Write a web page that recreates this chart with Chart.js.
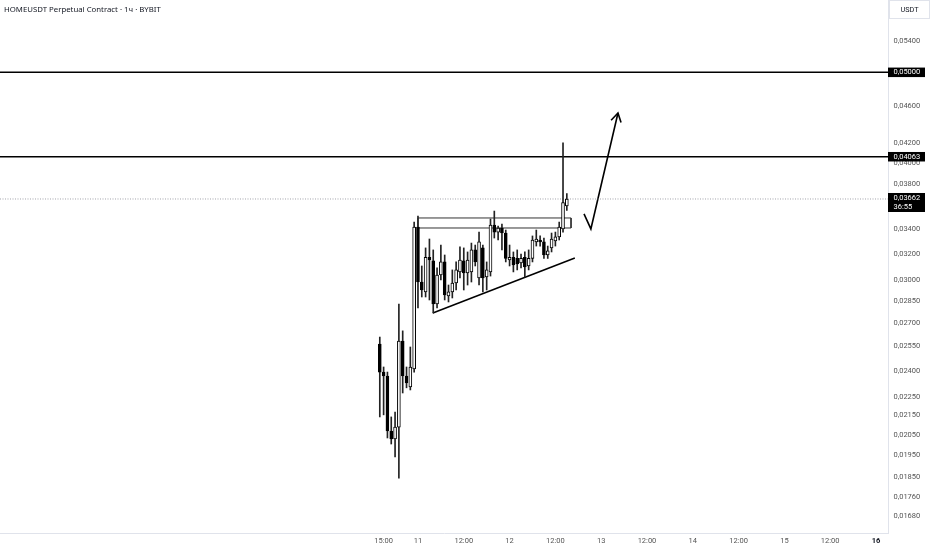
<!DOCTYPE html>
<html>
<head>
<meta charset="utf-8">
<script src="https://cdn.jsdelivr.net/npm/chart.js@4.4.0/dist/chart.umd.min.js"></script>
<style>
html,body{margin:0;padding:0;background:#ffffff;}
#wrap{width:932px;height:550px;position:relative;}
canvas{display:block;}
</style>
</head>
<body>
<div id="wrap"><canvas id="c" width="932" height="550"></canvas></div>
<script>
// ---- data (hour index since 10th 14:00, 1h candles) ----
const hours = [0,1,2,3,4,5,6,7,8,9,10,11,12,13,14,15,16,17,18,19,20,21,22,23,24,25,26,27,28,29,30,31,32,33,34,35,36,37,38,39,40,41,42,43,44,45,46,47,48,49];
const opens = [0.02564,0.02393,0.02370,0.02070,0.02030,0.02090,0.02583,0.02370,0.02307,0.02411,
               0.03418,0.02986,0.02914,0.03172,0.03145,0.02829,0.03038,0.03137,0.02885,0.02914,
               0.02979,0.03061,0.03145,0.03053,0.03061,0.03231,0.03016,0.03247,0.03023,0.03061,
               0.03435,0.03376,0.03410,0.03368,0.03152,0.03172,0.03164,0.03129,0.03172,0.03106,
               0.03164,0.03295,0.03311,0.03295,0.03191,0.03247,0.03303,0.03336,0.03402,0.03600];
const highs = [0.02608,0.02423,0.02393,0.02143,0.02169,0.02829,0.02648,0.02423,0.02545,0.03461,
               0.03512,0.03106,0.03247,0.03319,0.03231,0.03091,0.03270,0.03191,0.02964,0.03076,
               0.03137,0.03255,0.03247,0.03215,0.03286,0.03270,0.03376,0.03270,0.03137,0.03486,
               0.03555,0.03427,0.03444,0.03393,0.03270,0.03215,0.03231,0.03199,0.03215,0.03231,
               0.03344,0.03393,0.03344,0.03327,0.03262,0.03368,0.03376,0.03460,0.04203,0.03712];
const lows  = [0.02143,0.02154,0.02035,0.02005,0.01942,0.01844,0.02273,0.02302,0.02290,0.02393,
               0.02801,0.02878,0.02878,0.02857,0.02767,0.02801,0.03001,0.02857,0.02843,0.02871,
               0.02928,0.03016,0.02928,0.02964,0.02986,0.03106,0.02964,0.02914,0.02928,0.03030,
               0.03327,0.03311,0.03231,0.03137,0.03106,0.03061,0.03076,0.03091,0.03023,0.03076,
               0.03137,0.03262,0.03262,0.03164,0.03164,0.03215,0.03262,0.03311,0.03376,0.03560];
const closes = [0.02393,0.02370,0.02070,0.02030,0.02090,0.02583,0.02370,0.02330,0.02423,0.03418,
               0.02986,0.02928,0.03172,0.03152,0.02829,0.03038,0.03137,0.02892,0.02914,0.02979,
               0.03076,0.03152,0.03053,0.03152,0.03231,0.03137,0.03295,0.03016,0.03076,0.03435,
               0.03376,0.03410,0.03368,0.03164,0.03172,0.03114,0.03121,0.03164,0.03099,0.03164,
               0.03311,0.03319,0.03295,0.03191,0.03223,0.03319,0.03336,0.03418,0.03630,0.03662];

const priceTicks = [0.0168,0.0176,0.0185,0.0195,0.0205,0.0215,0.0225,0.024,0.0255,0.027,0.0285,
                    0.030,0.032,0.034,0.036,0.038,0.040,0.042,0.046,0.050,0.054];
const timeTicks  = [1,10,22,34,46,58,70,82,94,106,118,130];
const timeLabels = ['15:00','11','12:00','12','12:00','13','12:00','14','12:00','15','12:00','16'];

const levels = [0.05000, 0.04063];
const lastPrice = 0.03662;
const countdown = '36:55';

// drawings (x in hours, y in price)
const triangleX = [13.9, 51.1];
const triangleY = [0.02767, 0.03168];
const boxX = [10.0, 50.1];
const boxY = [0.03410, 0.03495];
const arrowX = [53.5, 55.3, 62.4];
const arrowY = [0.03530, 0.03402, 0.04524];
const arrowHeadX = [60.6, 62.4, 63.2];
const arrowHeadY = [0.04444, 0.04524, 0.04419];

const titleText = 'HOMEUSDT Perpetual Contract · 1ч · BYBIT';
const currency = 'USDT';

// ---- view ----
const X_MIN = -99.5, X_MAX = 133.14;
const Y_MIN = 0.01611, Y_MAX = 0.05973;

const fmt = v => v.toFixed(5).replace('.', ',');
const bodyFill = hours.map((h, i) => closes[i] >= opens[i] ? '#ffffff' : '#000000');

const lineDs = (pts, color, width, dash) => ({
  type: 'line', data: pts, borderColor: color, borderWidth: width,
  borderDash: dash || [], pointRadius: 0, pointHoverRadius: 0, fill: false,
  tension: 0, order: 5
});

const overlay = {
  id: 'overlay',
  afterDraw(chart) {
    const {ctx, chartArea, scales: {y}} = chart;
    ctx.save();
    // title
    ctx.font = '7.8px "Noto Sans", sans-serif';
    ctx.fillStyle = '#131722';
    ctx.textBaseline = 'middle';
    ctx.textAlign = 'left';
    ctx.fillText(titleText, 4, 10);
    // currency box
    ctx.strokeStyle = '#e0e3eb';
    ctx.lineWidth = 1;
    ctx.strokeRect(chartArea.right + 1.5, 0.5, 40, 18);
    ctx.fillStyle = '#131722';
    ctx.font = '7.3px "Roboto", sans-serif';
    ctx.textAlign = 'center';
    ctx.fillText(currency, chartArea.right + 21.5, 10);
    // level labels
    ctx.textAlign = 'left';
    ctx.font = '7.5px "Roboto", sans-serif';
    levels.forEach(v => {
      const py = y.getPixelForValue(v);
      ctx.fillStyle = '#000000';
      ctx.fillRect(chartArea.right, py - 4.75, 37, 9.5);
      ctx.fillStyle = '#ffffff';
      ctx.fillText(fmt(v), chartArea.right + 5.5, py + 0.3);
    });
    const py = y.getPixelForValue(lastPrice);
    ctx.fillStyle = '#000000';
    ctx.fillRect(chartArea.right, py - 6, 37, 19);
    ctx.fillStyle = '#ffffff';
    ctx.fillText(fmt(lastPrice), chartArea.right + 5.5, py - 0.5);
    ctx.fillText(countdown, chartArea.right + 5.5, py + 8);
    ctx.restore();
  }
};

new Chart(document.getElementById('c'), {
  data: {
    datasets: [
      {
        type: 'bar', label: 'body',
        data: hours.map((h, i) => ({x: h, y: [opens[i], closes[i]]})),
        backgroundColor: bodyFill, borderColor: '#000000', borderWidth: 1,
        borderSkipped: false, barThickness: 3, grouped: false, order: 0
      },
      {
        type: 'bar', label: 'wick',
        data: hours.map((h, i) => ({x: h, y: [lows[i], highs[i]]})),
        backgroundColor: '#222222', borderWidth: 0,
        barThickness: 1, grouped: false, order: 1
      },
      lineDs([{x: X_MIN, y: levels[0]}, {x: X_MAX, y: levels[0]}], '#000000', 1.5),
      lineDs([{x: X_MIN, y: levels[1]}, {x: X_MAX, y: levels[1]}], '#000000', 1.5),
      lineDs([{x: X_MIN, y: lastPrice}, {x: X_MAX, y: lastPrice}], '#8a8d96', 0.8, [1, 1.5]),
      lineDs([{x: triangleX[0], y: triangleY[0]}, {x: triangleX[1], y: triangleY[1]}], '#000000', 1.5),
      lineDs([{x: boxX[0], y: boxY[1]}, {x: boxX[1], y: boxY[1]}, {x: boxX[1], y: boxY[0]},
              {x: boxX[0], y: boxY[0]}, {x: boxX[0], y: boxY[1]}], '#333333', 1),
      lineDs(arrowX.map((v, i) => ({x: v, y: arrowY[i]})), '#000000', 1.6),
      lineDs(arrowHeadX.map((v, i) => ({x: v, y: arrowHeadY[i]})), '#000000', 1.6)
    ]
  },
  options: {
    responsive: false,
    animation: false,
    layout: {padding: 0},
    plugins: {legend: {display: false}, tooltip: {enabled: false}, title: {display: false}},
    scales: {
      x: {
        type: 'linear', min: X_MIN, max: X_MAX, offset: false,
        grid: {display: false, drawTicks: false},
        border: {display: true, color: '#e0e3eb', width: 1},
        afterBuildTicks: s => { s.ticks = timeTicks.map(v => ({value: v})); },
        afterFit: s => { s.height = 17; s.paddingLeft = 0; s.paddingRight = 0; },
        ticks: {
          autoSkip: false, maxRotation: 0, padding: 4,
          callback: (v, i) => timeLabels[i],
          color: c => c.index === timeLabels.length - 1 ? '#131722' : '#555555',
          font: c => ({family: 'Roboto', size: 7.5, weight: c.index === timeLabels.length - 1 ? 'bold' : 'normal'})
        }
      },
      y: {
        type: 'logarithmic', position: 'right', min: Y_MIN, max: Y_MAX,
        grid: {display: false, drawTicks: false},
        border: {display: true, color: '#e0e3eb', width: 1},
        afterBuildTicks: s => { s.ticks = priceTicks.map(v => ({value: v})); },
        afterFit: s => { s.width = 44; s.paddingTop = 0; s.paddingBottom = 0; },
        ticks: {
          autoSkip: false, padding: 5.5,
          callback: v => fmt(v),
          color: '#555555',
          font: {family: 'Roboto', size: 7.5}
        }
      }
    }
  },
  plugins: [overlay]
});
</script>
</body>
</html>
